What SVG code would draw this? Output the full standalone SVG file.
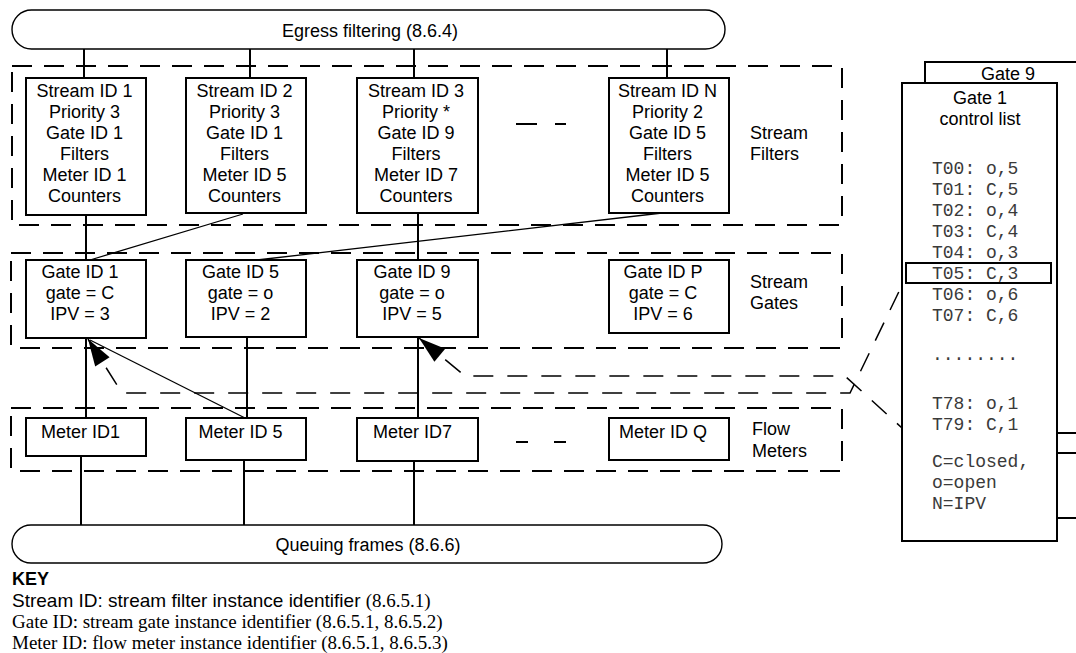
<svg xmlns="http://www.w3.org/2000/svg" width="1076" height="653" viewBox="0 0 1076 653">
<style>
.t{font-family:"Liberation Sans",Arial,sans-serif;font-size:18px;text-anchor:middle;fill:#000}
.l{font-family:"Liberation Sans",Arial,sans-serif;font-size:18px;fill:#000}
.m{font-family:"Liberation Mono","Courier New",monospace;font-size:18px;fill:#3a3a3a}
.k{font-family:"Liberation Serif","Times New Roman",serif;font-size:19px;fill:#000}
.ks{font-family:"Liberation Sans",Arial,sans-serif}
.box{fill:#fff;stroke:#000;stroke-width:2}
.hl{fill:none;stroke:#000;stroke-width:2}
.pill{fill:#fff;stroke:#000;stroke-width:1.4}
.dbox{fill:none;stroke:#000;stroke-width:2;stroke-dasharray:20 12}
.ln{fill:none;stroke:#000;stroke-width:2}
.thin{fill:none;stroke:#000;stroke-width:1.3}
.dash{fill:none;stroke:#000;stroke-width:1.5;stroke-dasharray:20 14}
</style>
<defs>
<marker id="ah" viewBox="-28 -10 30 20" refX="0" refY="0" markerWidth="30" markerHeight="20" markerUnits="userSpaceOnUse" orient="auto-start-reverse">
<path d="M0,0 L-27,-8.5 L-27,8.5 Z" fill="#000" stroke="none"/>
</marker>
</defs>

<g id="groups">
<rect class="dbox" x="12" y="66" width="830" height="159"/>
<rect class="dbox" x="11" y="253" width="831" height="95"/>
<rect class="dbox" x="11" y="408" width="831" height="63"/>
<text class="l" x="750" y="138.5">Stream</text>
<text class="l" x="750" y="159.5">Filters</text>
<text class="l" x="750" y="287.5">Stream</text>
<text class="l" x="750" y="308.5">Gates</text>
<text class="l" x="752" y="434.5">Flow</text>
<text class="l" x="752" y="456.5">Meters</text>
<path class="ln" d="M516,124 H537 M555,124 H566 M516,442 H528 M554,442 H566"/>
</g>

<g id="connectors">
<path class="ln" d="M84,49 V78 M250,49 V78 M414,49 V78 M667,49 V78"/>
<path class="ln" d="M86,215 V260 M418,213 V260"/>
<path class="thin" d="M243,214 L90,260 M662,213 L257,260"/>
<path class="ln" d="M86,338 V418 M247,337 V418 M418,337 V418"/>
<path class="thin" d="M90,340 L245,418"/>
<path class="ln" d="M81,456 V525 M244,460 V527 M414,461 V525"/>
<path class="dash" marker-start="url(#ah)" d="M88,339 L122,393 L850,393 L905,279"/>
<path class="dash" marker-start="url(#ah)" d="M419,338 L465,376 L845,376 L902,428"/>
</g>

<g id="egress">
<rect class="pill" x="12" y="10" width="713" height="39" rx="19.5"/>
<text class="t" x="370" y="36.5">Egress filtering (8.6.4)</text>
</g>

<g id="sf1">
<rect class="box" x="26" y="78" width="120" height="137"/>
<text class="t" x="84.5" y="97">Stream ID 1</text><text class="t" x="84.5" y="118">Priority 3</text><text class="t" x="84.5" y="139">Gate ID 1</text><text class="t" x="84.5" y="160">Filters</text><text class="t" x="84.5" y="181">Meter ID 1</text><text class="t" x="84.5" y="202">Counters</text>
</g>
<g id="sf2">
<rect class="box" x="186" y="78" width="120" height="135"/>
<text class="t" x="244.5" y="97">Stream ID 2</text><text class="t" x="244.5" y="118">Priority 3</text><text class="t" x="244.5" y="139">Gate ID 1</text><text class="t" x="244.5" y="160">Filters</text><text class="t" x="244.5" y="181">Meter ID 5</text><text class="t" x="244.5" y="202">Counters</text>
</g>
<g id="sf3">
<rect class="box" x="357" y="78" width="121" height="135"/>
<text class="t" x="416" y="97">Stream ID 3</text><text class="t" x="416" y="118">Priority *</text><text class="t" x="416" y="139">Gate ID 9</text><text class="t" x="416" y="160">Filters</text><text class="t" x="416" y="181">Meter ID 7</text><text class="t" x="416" y="202">Counters</text>
</g>
<g id="sfN">
<rect class="box" x="609" y="78" width="120" height="135"/>
<text class="t" x="667.5" y="97">Stream ID N</text><text class="t" x="667.5" y="118">Priority 2</text><text class="t" x="667.5" y="139">Gate ID 5</text><text class="t" x="667.5" y="160">Filters</text><text class="t" x="667.5" y="181">Meter ID 5</text><text class="t" x="667.5" y="202">Counters</text>
</g>

<g id="g1">
<rect class="box" x="26" y="260" width="120" height="78"/>
<text class="t" x="80" y="278">Gate ID 1</text><text class="t" x="80" y="299">gate = C</text><text class="t" x="80" y="320">IPV = 3</text>
</g>
<g id="g5">
<rect class="box" x="186" y="260" width="120" height="77"/>
<text class="t" x="240.5" y="278">Gate ID 5</text><text class="t" x="240.5" y="299">gate = o</text><text class="t" x="240.5" y="320">IPV = 2</text>
</g>
<g id="g9">
<rect class="box" x="357" y="260" width="121" height="77"/>
<text class="t" x="412" y="278">Gate ID 9</text><text class="t" x="412" y="299">gate = o</text><text class="t" x="412" y="320">IPV = 5</text>
</g>
<g id="gP">
<rect class="box" x="609" y="260" width="120" height="73"/>
<text class="t" x="663" y="278">Gate ID P</text><text class="t" x="663" y="299">gate = C</text><text class="t" x="663" y="320">IPV = 6</text>
</g>

<g id="m1">
<rect class="box" x="26" y="418" width="120" height="38"/>
<text class="t" x="80.5" y="438">Meter ID1</text>
</g>
<g id="m5">
<rect class="box" x="186" y="418" width="120" height="42"/>
<text class="t" x="240.5" y="438">Meter ID 5</text>
</g>
<g id="m7">
<rect class="box" x="357" y="418" width="121" height="43"/>
<text class="t" x="412.5" y="438">Meter ID7</text>
</g>
<g id="mQ">
<rect class="box" x="609" y="418" width="120" height="42"/>
<text class="t" x="663" y="438">Meter ID Q</text>
</g>

<g id="queuing">
<rect class="pill" x="12" y="525" width="710" height="38" rx="19"/>
<text class="t" x="368" y="551">Queuing frames (8.6.6)</text>
</g>

<g id="gate9list">
<path class="ln" d="M925,83 V62 H1076 M1057,433 H1076 M1057,453 H1076 M1057,518 H1076"/>
<text class="t" x="1008" y="79.5">Gate 9</text>
</g>
<g id="gate1list">
<rect class="box" x="902" y="83" width="155" height="458"/>
<text class="t" x="980" y="104">Gate 1</text>
<text class="t" x="980" y="125">control list</text>
<text class="m" x="932" y="173.5">T00: o,5</text>
<text class="m" x="932" y="194.5">T01: C,5</text>
<text class="m" x="932" y="215.5">T02: o,4</text>
<text class="m" x="932" y="236.5">T03: C,4</text>
<text class="m" x="932" y="257.5">T04: o,3</text>
<rect class="hl" x="906" y="263" width="145" height="20"/>
<text class="m" x="932" y="278.5">T05: C,3</text>
<text class="m" x="932" y="299.5">T06: o,6</text>
<text class="m" x="932" y="320.5">T07: C,6</text>
<text class="m" x="932" y="360">........</text>
<text class="m" x="932" y="408.5">T78: o,1</text>
<text class="m" x="932" y="429.5">T79: C,1</text>
<text class="m" x="932" y="467">C=closed,</text>
<text class="m" x="932" y="488">o=open</text>
<text class="m" x="932" y="509">N=IPV</text>
</g>

<g id="key">
<text class="l" x="12" y="585" font-weight="bold" font-size="19">KEY</text>
<text class="k" x="12" y="607"><tspan class="ks">Stream ID: stream filter instance identifier </tspan>(8.6.5.1)</text>
<text class="k" x="12" y="628">Gate ID: stream gate instance identifier (8.6.5.1, 8.6.5.2)</text>
<text class="k" x="12" y="649">Meter ID: flow meter instance identifier (8.6.5.1, 8.6.5.3)</text>
</g>
</svg>
